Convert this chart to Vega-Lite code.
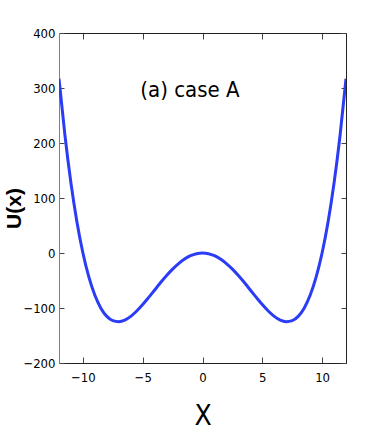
{
  "$schema": "https://vega.github.io/schema/vega-lite/v6.json",
  "width": 287,
  "height": 330,
  "autosize": {"type": "none"},
  "padding": {"left": 59, "top": 33, "right": 36, "bottom": 73},
  "background": "white",
  "config": {
    "view": {"stroke": null},
    "axis": {"grid": false, "labelFont": "DejaVu Sans Condensed, Liberation Sans, sans-serif", "labelFontSize": 13, "labelColor": "#000", "domainColor": "#222", "tickColor": "#444", "titleColor": "#000"}
  },
  "layer": [
    {
      "data": {"values": [
        {"x": -12, "u": 316.8}, {"x": -11.5, "u": 213.25}, {"x": -11, "u": 127.05}, {"x": -10.5, "u": 56.5},
        {"x": -10, "u": 0}, {"x": -9.5, "u": -44.0}, {"x": -9, "u": -76.95}, {"x": -8.5, "u": -100.25},
        {"x": -8, "u": -115.2}, {"x": -7.5, "u": -123.05}, {"x": -7, "u": -124.95}, {"x": -6.5, "u": -122.0},
        {"x": -6, "u": -115.2}, {"x": -5.5, "u": -105.5}, {"x": -5, "u": -93.75}, {"x": -4.5, "u": -80.75},
        {"x": -4, "u": -67.2}, {"x": -3.5, "u": -53.75}, {"x": -3, "u": -40.95}, {"x": -2.5, "u": -29.3},
        {"x": -2, "u": -19.2}, {"x": -1.5, "u": -11.0}, {"x": -1, "u": -4.95}, {"x": -0.5, "u": -1.25},
        {"x": 0, "u": 0},
        {"x": 0.5, "u": -1.25}, {"x": 1, "u": -4.95}, {"x": 1.5, "u": -11.0}, {"x": 2, "u": -19.2},
        {"x": 2.5, "u": -29.3}, {"x": 3, "u": -40.95}, {"x": 3.5, "u": -53.75}, {"x": 4, "u": -67.2},
        {"x": 4.5, "u": -80.75}, {"x": 5, "u": -93.75}, {"x": 5.5, "u": -105.5}, {"x": 6, "u": -115.2},
        {"x": 6.5, "u": -122.0}, {"x": 7, "u": -124.95}, {"x": 7.5, "u": -123.05}, {"x": 8, "u": -115.2},
        {"x": 8.5, "u": -100.25}, {"x": 9, "u": -76.95}, {"x": 9.5, "u": -44.0}, {"x": 10, "u": 0},
        {"x": 10.5, "u": 56.5}, {"x": 11, "u": 127.05}, {"x": 11.5, "u": 213.25}, {"x": 12, "u": 316.8}
      ]},
      "mark": {"type": "line", "color": "#2a3cf5", "strokeWidth": 3, "interpolate": "monotone", "clip": true},
      "encoding": {
        "x": {"field": "x", "type": "quantitative", "scale": {"domain": [-12, 12], "nice": false, "zero": false},
          "axis": {"orient": "bottom", "values": [-10, -5, 0, 5, 10], "tickSize": -6, "labelPadding": 14, "title": "X", "titleFont": "DejaVu Sans Condensed, Liberation Sans, sans-serif", "titleFontSize": 28, "titleFontWeight": "normal", "titleBaseline": "middle", "titleY": 53}},
        "y": {"field": "u", "type": "quantitative", "scale": {"domain": [-200, 400], "nice": false, "zero": false},
          "axis": {"orient": "left", "values": [-200, -100, 0, 100, 200, 300, 400], "tickSize": -5, "labelPadding": 9, "domainColor": "#808080", "title": "U(x)", "titleFont": "Liberation Sans, sans-serif", "titleFontSize": 21, "titleFontWeight": "bold", "titleBaseline": "middle", "titleX": -45, "titleY": 175}}
      }
    },
    {
      "data": {"values": [{"x": -1.05, "u": 296, "label": "(a) case A"}]},
      "mark": {"type": "text", "font": "DejaVu Sans Condensed, Liberation Sans, sans-serif", "fontSize": 22, "align": "center", "baseline": "middle", "color": "#000"},
      "encoding": {
        "x": {"field": "x", "type": "quantitative", "scale": {"domain": [-12, 12], "nice": false, "zero": false},
          "axis": {"orient": "top", "values": [-10, -5, 0, 5, 10], "labels": false, "tickSize": -6, "title": null}},
        "y": {"field": "u", "type": "quantitative", "scale": {"domain": [-200, 400], "nice": false, "zero": false},
          "axis": {"orient": "right", "values": [-200, -100, 0, 100, 200, 300, 400], "labels": false, "tickSize": -5, "title": null}},
        "text": {"field": "label"}
      }
    }
  ],
  "resolve": {"axis": {"x": "independent", "y": "independent"}}
}
